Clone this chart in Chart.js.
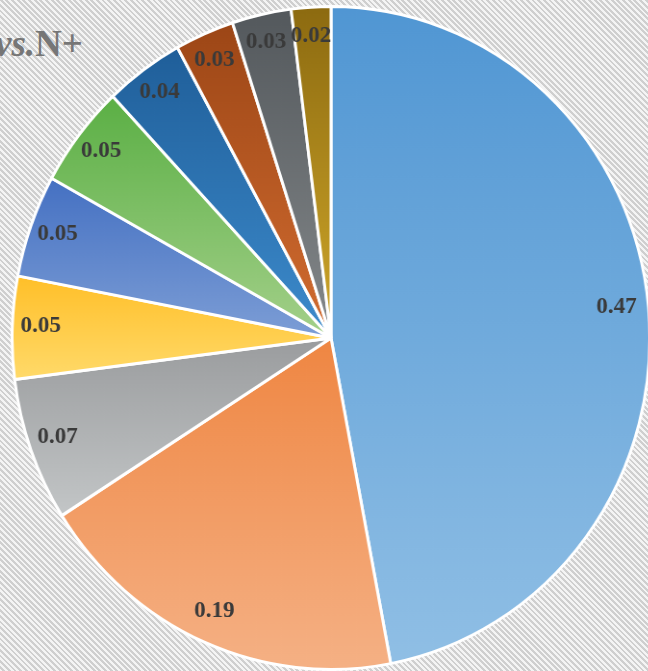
<!DOCTYPE html>
<html>
<head>
<meta charset="utf-8">
<script src="https://cdn.jsdelivr.net/npm/chart.js@4.4.1/dist/chart.umd.min.js"></script>
<style>
  html, body { margin: 0; padding: 0; overflow: hidden; }
  body {
    width: 648px; height: 671px; position: relative;
    background: repeating-linear-gradient(45deg, #f4f4f4 0px, #f4f4f4 2px, #cfcfcf 2px, #cfcfcf 4px);
  }
  #wrap { position: absolute; left: -2px; top: 5px; width: 666px; height: 666px;
    transform: scaleX(0.962); transform-origin: 333px 0; }
  #title { position: absolute; left: -5px; top: 22px; font-family: "Liberation Serif", serif;
    font-weight: bold; font-size: 37px; color: #767676; white-space: nowrap; }
</style>
</head>
<body>
<div id="title"><i>vs.</i>N+</div>
<div id="wrap"><canvas id="PieCvs" width="666" height="666"></canvas></div>
<script>
// 資料
const labels = ['A', 'B', 'C', 'D', 'E', 'F', 'G', 'H', 'I', 'J'];
const values = [0.47, 0.19, 0.07, 0.05, 0.05, 0.05, 0.04, 0.03, 0.03, 0.02];
const valueText = ['0.47', '0.19', '0.07', '0.05', '0.05', '0.05', '0.04', '0.03', '0.03', '0.02'];
// 每一塊的漸層顏色 (上深 -> 下淺)
const topColors = ['#5096d3', '#ef8642', '#9a9c9e', '#ffbf28', '#4470c2', '#5aaf44', '#1f5e99', '#9c4616', '#53585c', '#8c6a10'];
const bottomColors = ['#90bfe5', '#f5b185', '#c3c6c7', '#ffda6a', '#7d9ed6', '#a4d08a', '#3d8bcc', '#d26c30', '#84888a', '#cfa72a'];

// 依照扇形的上下範圍做垂直漸層
function sliceGradient(ctx) {
  const chart = ctx.chart;
  const area = chart.chartArea;
  if (!area) return topColors[ctx.dataIndex];
  const i = ctx.dataIndex;
  const total = values.reduce((a, b) => a + b, 0);
  let cum = 0;
  for (let k = 0; k < i; k++) cum += values[k];
  const a0 = -Math.PI / 2 + 2 * Math.PI * cum / total;
  const a1 = a0 + 2 * Math.PI * values[i] / total;
  const cx = (area.left + area.right) / 2;
  const cy = (area.top + area.bottom) / 2;
  const r = Math.min(area.width, area.height) / 2;
  const ys = [cy, cy + r * Math.sin(a0), cy + r * Math.sin(a1)];
  [-Math.PI / 2, Math.PI / 2, 3 * Math.PI / 2].forEach(t => { if (t > a0 && t < a1) ys.push(cy + r * Math.sin(t)); });
  const y0 = Math.min(...ys), y1 = Math.max(...ys);
  const g = chart.ctx.createLinearGradient(0, y0, 0, y1);
  g.addColorStop(0, topColors[i]);
  g.addColorStop(1, bottomColors[i]);
  return g;
}

// 標籤畫在靠外圈的位置
const labelPlugin = {
  id: 'sliceLabels',
  afterDatasetsDraw(chart) {
    const c = chart.ctx;
    const meta = chart.getDatasetMeta(0);
    c.save();
    c.font = 'bold 24px "Liberation Serif", serif';
    c.fillStyle = '#3a3a3a';
    c.textAlign = 'center';
    c.textBaseline = 'middle';
    meta.data.forEach((arc, i) => {
      const mid = (arc.startAngle + arc.endAngle) / 2;
      const d = arc.outerRadius * 0.905;
      c.fillText(valueText[i], arc.x + Math.cos(mid) * d - 2, arc.y + Math.sin(mid) * d - 3);
    });
    c.restore();
  }
};

const canvas = document.getElementById('PieCvs');
const pieCtx = canvas.getContext('2d');
const config = {
  type: 'pie',
  data: {
    labels: labels,
    datasets: [{
      data: values,
      backgroundColor: sliceGradient,
      borderColor: '#ffffff',
      borderWidth: 3,
    }]
  },
  options: {
    responsive: false,
    animation: false,
    plugins: { legend: { display: false }, tooltip: { enabled: false } },
  },
  plugins: [labelPlugin],
};
const pieChart = new Chart(pieCtx, config);
</script>
</body>
</html>
